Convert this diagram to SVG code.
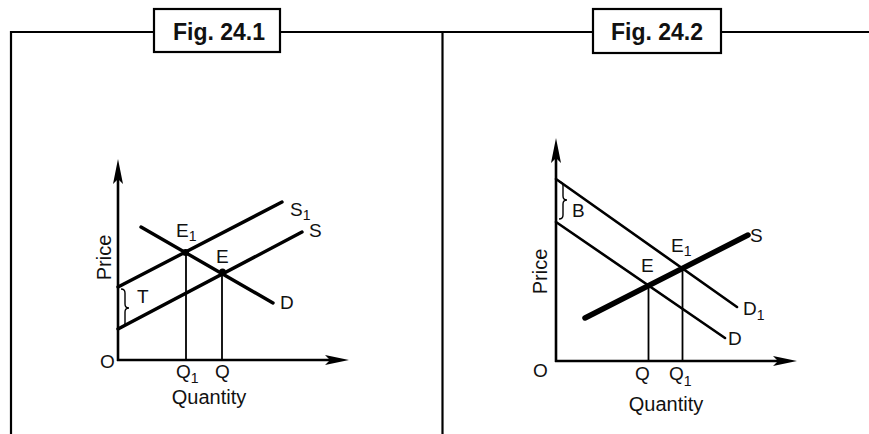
<svg xmlns="http://www.w3.org/2000/svg" width="869" height="434" viewBox="0 0 869 434">
<style>
.fr{stroke:#000;stroke-width:2.2;fill:none}
.box{stroke:#000;stroke-width:2.2;fill:#fff}
.ttl{font-family:"Liberation Sans",Arial,sans-serif;font-weight:bold;font-size:23px;text-anchor:middle;fill:#111}
.ax{stroke:#000;stroke-width:2.6;fill:none}
.ah{fill:#000;stroke:none}
.cv{stroke:#000;stroke-width:3.4;fill:none;stroke-linecap:round}
.cvt{stroke:#000;stroke-width:2.6;fill:none;stroke-linecap:round}
.cvb{stroke:#000;stroke-width:5.5;fill:none;stroke-linecap:round}
.vl{stroke:#000;stroke-width:1.8;fill:none}
.br{stroke:#000;stroke-width:1.4;fill:none}
.lb{font-family:"Liberation Sans",Arial,sans-serif;font-size:19px;fill:#111}
.sb{font-size:14px}
.ax-t{font-family:"Liberation Sans",Arial,sans-serif;font-size:20px;fill:#111}
</style>
<g id="frame">
<line class="fr" x1="11" y1="32" x2="869" y2="32"/>
<line class="fr" x1="11" y1="31" x2="11" y2="434"/>
<line class="fr" x1="442.5" y1="31" x2="442.5" y2="434"/>
</g>
<g id="title1">
<rect class="box" x="154" y="9" width="126" height="43"/>
<text class="ttl" x="219" y="40">Fig. 24.1</text>
</g>
<g id="title2">
<rect class="box" x="593" y="9" width="128" height="44"/>
<text class="ttl" x="657" y="40">Fig. 24.2</text>
</g>
<g id="fig1">
<g id="axes1">
<line class="ax" x1="118" y1="361" x2="118" y2="178"/>
<polygon class="ah" points="118,159 113,184 118,179 123,184"/>
<line class="ax" x1="117" y1="360" x2="330" y2="360"/>
<polygon class="ah" points="349,360 325,355 330,360 325,365"/>
</g>
<g id="curves1">
<line class="cv" x1="118" y1="287" x2="282" y2="202"/>
<line class="cv" x1="118" y1="329" x2="302" y2="232"/>
<line class="cv" x1="141" y1="227" x2="273" y2="303"/>
<line class="vl" x1="186" y1="252" x2="186" y2="360"/>
<line class="vl" x1="222" y1="272" x2="222" y2="360"/>
<circle cx="185.5" cy="252.5" r="3.5"/>
<circle cx="222.5" cy="272" r="3.5"/>
<path class="br" d="M121,289 q4,0 4,4 L125,304 q0,4 4,4 q-4,0 -4,4 L125,323 q0,4 -4,4"/>
</g>
<g id="labels1">
<text class="lb" x="290" y="216">S<tspan class="sb" dy="4">1</tspan></text>
<text class="lb" x="309" y="237">S</text>
<text class="lb" x="176" y="237">E<tspan class="sb" dy="4">1</tspan></text>
<text class="lb" x="216" y="263">E</text>
<text class="lb" x="280" y="309">D</text>
<text class="lb" x="137" y="303">T</text>
<text class="lb" x="100" y="368">O</text>
<text class="lb" x="176" y="378">Q<tspan class="sb" dy="5">1</tspan></text>
<text class="lb" x="215" y="378">Q</text>
<text class="ax-t" x="209" y="404" text-anchor="middle">Quantity</text>
<text class="ax-t" transform="translate(111,257.5) rotate(-90)" text-anchor="middle">Price</text>
</g>
</g>
<g id="fig2">
<g id="axes2">
<line class="ax" x1="556" y1="362" x2="556" y2="157"/>
<polygon class="ah" points="556,138 551,163 556,158 561,163"/>
<line class="ax" x1="555" y1="361" x2="778" y2="361"/>
<polygon class="ah" points="797,361 773,356 778,361 773,366"/>
</g>
<g id="curves2">
<line class="cvt" x1="556" y1="179" x2="737" y2="307"/>
<line class="cvt" x1="556" y1="222" x2="725" y2="338"/>
<line class="vl" x1="648.5" y1="285.5" x2="648.5" y2="361"/>
<line class="vl" x1="682.5" y1="268" x2="682.5" y2="361"/>
<line class="cvb" x1="585" y1="318" x2="748" y2="235"/>
<path class="br" d="M559,182 q4,0 4,4 L563,196 q0,4 4,4 q-4,0 -4,4 L563,215 q0,4 -4,4"/>
</g>
<g id="labels2">
<text class="lb" x="750" y="242">S</text>
<text class="lb" x="671" y="252">E<tspan class="sb" dy="4">1</tspan></text>
<text class="lb" x="641" y="272">E</text>
<text class="lb" x="743" y="315">D<tspan class="sb" dy="5">1</tspan></text>
<text class="lb" x="728" y="345">D</text>
<text class="lb" x="572" y="217">B</text>
<text class="lb" x="533" y="377">O</text>
<text class="lb" x="635" y="380">Q</text>
<text class="lb" x="669" y="380">Q<tspan class="sb" dy="6">1</tspan></text>
<text class="ax-t" x="666" y="411" text-anchor="middle">Quantity</text>
<text class="ax-t" transform="translate(547,271.5) rotate(-90)" text-anchor="middle">Price</text>
</g>
</g>
</svg>
